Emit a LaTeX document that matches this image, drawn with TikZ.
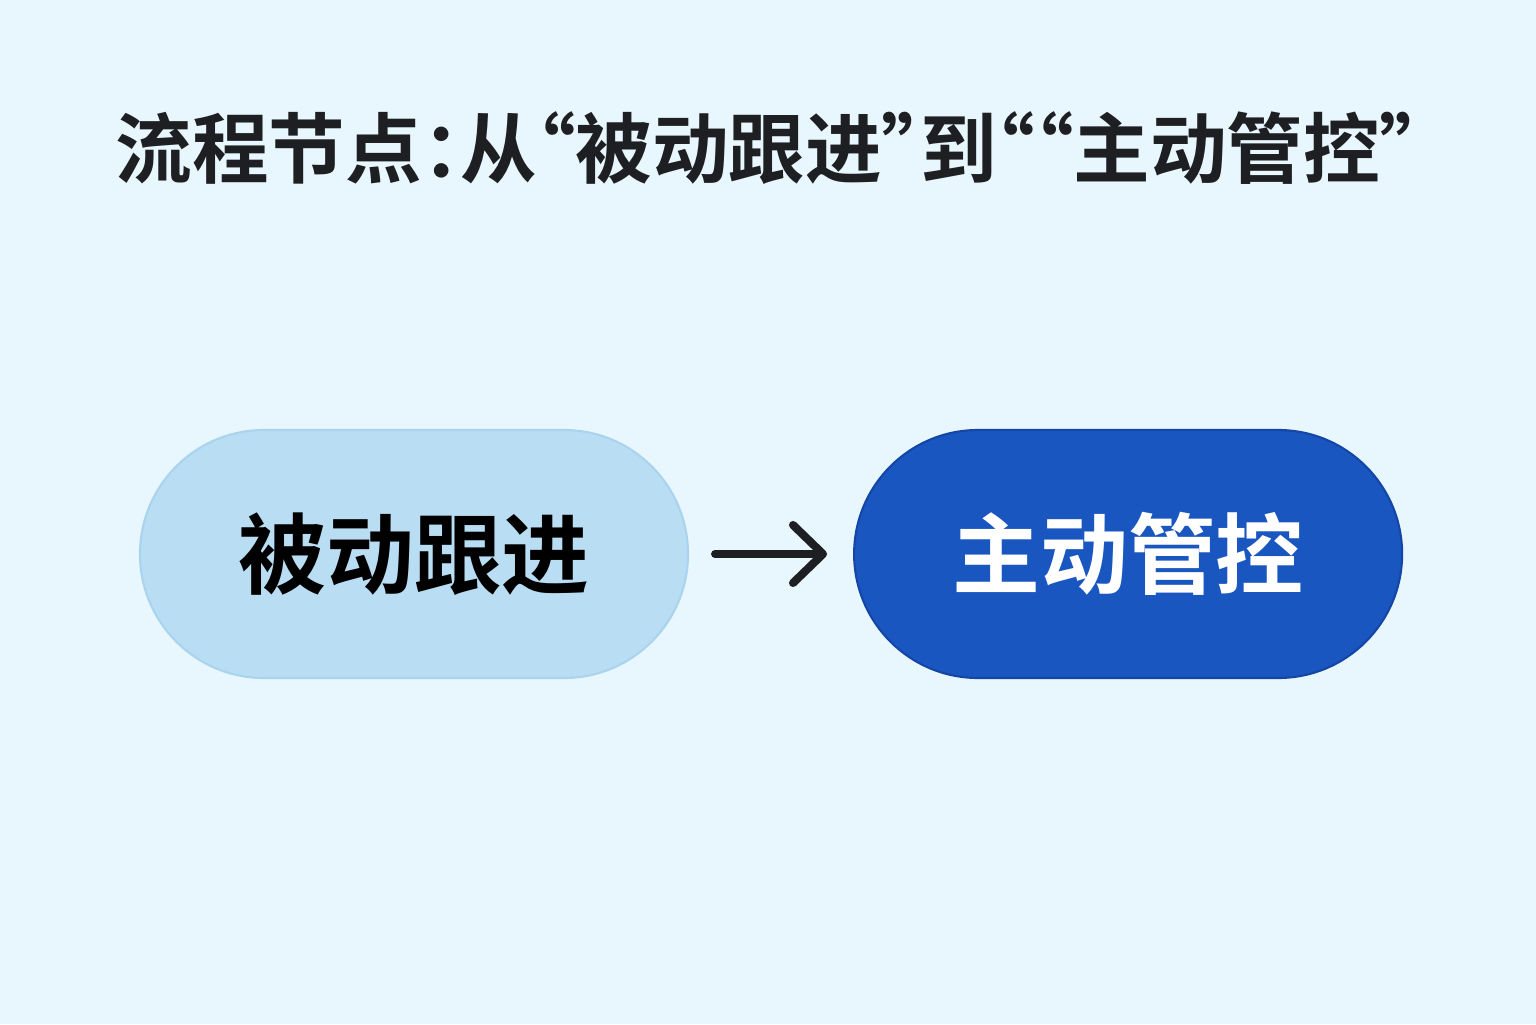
\documentclass[tikz,border=0pt]{standalone}
\usepackage{fontspec}
\newfontfamily\cjk{Noto Sans CJK SC}[BoldFont={Noto Sans CJK SC Bold}]
\newfontfamily\cjktight{Noto Sans CJK SC}[BoldFont={Noto Sans CJK SC Bold},RawFeature=+palt]
\usetikzlibrary{arrows.meta,positioning}

\definecolor{bgblue}{RGB}{232,246,253}
\definecolor{paleblue}{RGB}{185,222,243}
\definecolor{paleedge}{RGB}{170,212,238}
\definecolor{deepblue}{RGB}{26,86,192}
\definecolor{deepedge}{RGB}{20,70,168}
\definecolor{inkdark}{RGB}{30,31,34}

\begin{document}
\begin{tikzpicture}[>={Straight Barb[length=0.3cm,width=0.58cm,line cap=round,line join=round]}]
        \tikzset{pill/.style= {draw, rectangle, rounded corners=1.24cm, align=center, minimum width=5.48cm, minimum height=2.48cm, line width=0.6pt, font=\cjk\bfseries\fontsize{25}{30}\selectfont},
        lightpill/.style= {pill, fill=paleblue, draw=paleedge, text=black},
        darkpill/.style= {pill, fill=deepblue, draw=deepedge, text=white},
        headline/.style={font=\cjktight\bfseries\fontsize{21.8}{26}\selectfont, text=inkdark},
        }
        % background and page size
        \fill[bgblue] (0,0) rectangle (15.36,10.24);
        \useasboundingbox (0,0) rectangle (15.36,10.24);

        \node [headline] (title) at (7.67,8.76) {流程节点：从“被动跟进”到““主动管控”};
        \node [lightpill] (passive) at (4.14,4.70) {被动跟进};
        \node [darkpill, right =1.64cm of passive] (active) {主动管控};

%% paths
        \path[draw,->,line width=2.3pt,line cap=round,draw=inkdark,shorten <=0.26cm,shorten >=0.26cm] (passive) -- (active);
    \end{tikzpicture}
\end{document}
